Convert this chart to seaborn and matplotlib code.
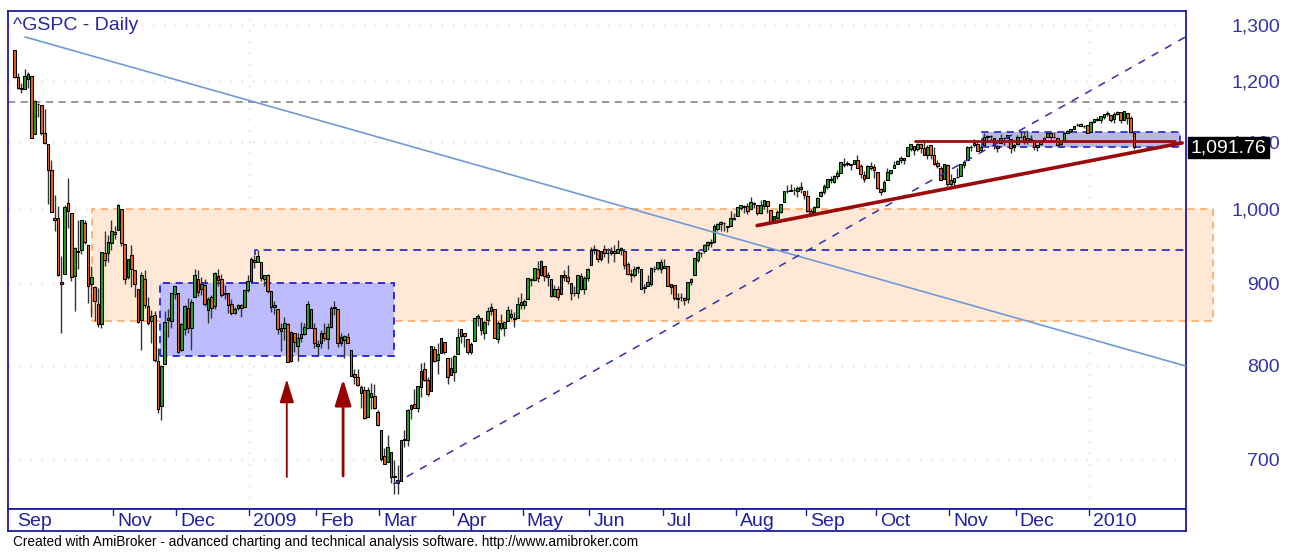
import numpy as np
import seaborn as sns
import matplotlib.pyplot as plt
from matplotlib.patches import Rectangle
from matplotlib.ticker import FixedLocator, FuncFormatter, NullLocator

# ^GSPC daily bars, 22 Sep 2008 .. 22 Jan 2010 (one value per trading day)
opens = [
    1255, 1207, 1188, 1187, 1204, 1209, 1113,                                   # Sep 08
    1162, 1160, 1115, 1097, 1057, 988, 988, 902, 912, 1009, 995, 909, 942, 943,
    980, 951, 899, 895, 874, 849, 939, 939, 953,                                # Oct
    968, 971, 1001, 952, 908, 937, 917, 893, 854, 905, 871, 853, 860, 806, 756,
    802, 854, 853, 886,                                                         # Nov
    888, 818, 843, 869, 844, 883, 906, 892, 898, 866, 882, 871, 909, 905, 886,
    888, 874, 863, 869, 873, 870, 891,                                          # Dec
    903, 930, 928, 928, 906, 910, 890, 870, 868, 841, 844, 849, 806, 839, 823,
    832, 837, 845, 868, 845,                                                    # Jan 09
    823, 826, 838, 831, 846, 869, 867, 827, 830, 834, 818, 791, 788, 776, 773,
    744, 770, 766, 749,                                                         # Feb
    730, 704, 698, 708, 684, 680, 679, 720, 720, 752, 758, 753, 776, 797, 784,
    772, 820, 807, 815, 828, 809, 790,                                          # Mar
    793, 814, 835, 839, 831, 816, 829, 856, 856, 839, 854, 865, 868, 831, 850,
    844, 853, 862, 856, 856, 876,                                               # Apr
    873, 880, 906, 904, 919, 910, 923, 910, 905, 884, 893, 886, 910, 908, 900,
    888, 887, 909, 893, 907,                                                    # May
    924, 943, 943, 932, 945, 940, 940, 942, 940, 943, 942, 925, 912, 911, 920,
    918, 894, 896, 899, 918, 920, 927,                                          # Jun
    920, 922, 895, 898, 881, 882, 881, 880, 901, 910, 930, 940, 942, 951, 953,
    954, 972, 979, 981, 977, 976, 986,                                          # Jul
    990, 1002, 1005, 1004, 1000, 1009, 1006, 995, 1005, 1012, 999, 980, 987,
    996, 1010, 1026, 1026, 1028, 1027, 1032, 1026,                              # Aug
    1019, 997, 996, 1003, 1019, 1025, 1032, 1044, 1040, 1049, 1053, 1067, 1067,
    1066, 1066, 1072, 1063, 1050, 1045, 1064, 1062,                             # Sep
    1055, 1029, 1026, 1042, 1053, 1061, 1066, 1072, 1075, 1079, 1090, 1094,
    1089, 1098, 1091, 1080, 1095, 1080, 1068, 1061, 1044, 1065,                 # Oct
    1037, 1040, 1047, 1048, 1065, 1072, 1092, 1096, 1098, 1088, 1095, 1109,
    1110, 1106, 1094, 1099, 1106, 1107, 1105, 1092,                             # Nov
    1098, 1109, 1110, 1104, 1105, 1103, 1092, 1098, 1104, 1108, 1114, 1108,
    1106, 1097, 1104, 1114, 1118, 1121, 1127, 1129, 1125, 1127,                 # Dec
    1117, 1133, 1136, 1136, 1141, 1146, 1144, 1137, 1145, 1148, 1136, 1147,
    1138, 1115,                                                                 # Jan 10
]
highs = [
    1255, 1214, 1197, 1221, 1215, 1209, 1169,
    1163, 1160, 1153, 1097, 1072, 1021, 1005, 936, 1006, 1045, 995, 948, 985,
    985, 985, 951, 922, 896, 894, 941, 970, 964, 985,
    976, 1007, 1001, 952, 932, 951, 917, 893, 914, 917, 882, 866, 865, 821, 801,
    865, 868, 888, 897,
    888, 850, 873, 881, 880, 918, 917, 908, 905, 883, 885, 914, 918, 912, 898,
    888, 880, 870, 874, 874, 891, 911,
    934, 937, 943, 928, 911, 912, 890, 877, 868, 851, 858, 850, 841, 839, 838,
    852, 850, 877, 868, 851,
    830, 842, 851, 850, 871, 878, 868, 839, 836, 838, 818, 796, 797, 779, 777,
    776, 781, 780, 751,
    730, 712, 725, 708, 700, 695, 720, 730, 752, 758, 774, 778, 803, 804, 788,
    823, 823, 826, 832, 828, 809, 810,
    813, 845, 843, 839, 831, 828, 857, 861, 856, 853, 870, 875, 868, 853, 862,
    853, 871, 868, 864, 882, 888,
    880, 907, 907, 920, 929, 930, 923, 915, 905, 898, 897, 910, 917, 924, 900,
    896, 911, 913, 909, 920,
    947, 950, 943, 942, 951, 946, 947, 950, 957, 947, 943, 928, 919, 922, 922,
    918, 899, 910, 921, 922, 928, 931,
    932, 922, 898, 898, 887, 887, 883, 901, 907, 933, 943, 941, 952, 956, 959,
    979, 980, 983, 982, 977, 997, 994,
    1003, 1006, 1006, 1009, 1018, 1011, 1006, 1013, 1013, 1012, 999, 991, 999,
    1008, 1027, 1035, 1037, 1032, 1033, 1040, 1026,
    1028, 1000, 1004, 1017, 1026, 1037, 1044, 1049, 1050, 1057, 1068, 1075,
    1071, 1067, 1073, 1080, 1066, 1056, 1065, 1070, 1066,
    1055, 1031, 1042, 1060, 1058, 1071, 1073, 1079, 1076, 1093, 1097, 1094,
    1099, 1099, 1101, 1095, 1095, 1092, 1073, 1063, 1067, 1066,
    1052, 1046, 1061, 1066, 1072, 1094, 1096, 1105, 1102, 1097, 1114, 1111,
    1112, 1106, 1095, 1113, 1108, 1112, 1105, 1098,
    1112, 1116, 1118, 1120, 1111, 1103, 1096, 1104, 1108, 1114, 1114, 1117,
    1106, 1103, 1117, 1120, 1121, 1126, 1130, 1130, 1127, 1128,
    1134, 1137, 1140, 1142, 1145, 1150, 1144, 1148, 1150, 1148, 1150, 1147,
    1142, 1115,
]
lows = [
    1205, 1187, 1180, 1187, 1188, 1106, 1113,
    1140, 1111, 1098, 1007, 996, 970, 909, 839, 912, 973, 903, 865, 918, 938,
    952, 875, 858, 853, 846, 845, 922, 928, 944,
    958, 971, 949, 899, 906, 895, 883, 850, 818, 869, 848, 826, 805, 748, 741,
    802, 834, 845, 880,
    815, 817, 836, 839, 818, 883, 884, 885, 871, 851, 856, 868, 896, 883, 880,
    863, 860, 861, 866, 858, 870, 889,
    900, 920, 927, 903, 896, 888, 864, 862, 837, 817, 830, 804, 805, 816, 806,
    828, 836, 845, 844, 821,
    812, 821, 829, 819, 845, 860, 822, 823, 809, 826, 789, 780, 777, 754, 742,
    744, 752, 752, 734,
    699, 696, 698, 677, 667, 667, 679, 713, 714, 742, 753, 749, 765, 783, 766,
    772, 805, 791, 815, 814, 780, 790,
    783, 814, 826, 822, 814, 814, 829, 847, 836, 831, 848, 860, 832, 827, 842,
    835, 853, 855, 846, 856, 868,
    867, 880, 897, 903, 901, 909, 903, 896, 882, 882, 879, 886, 903, 899, 879,
    884, 881, 891, 886, 903,
    924, 938, 927, 929, 934, 926, 937, 928, 940, 937, 919, 911, 902, 908, 913,
    893, 888, 896, 896, 915, 917, 913,
    920, 896, 886, 879, 869, 878, 873, 875, 898, 910, 928, 934, 940, 943, 948,
    953, 969, 969, 969, 968, 976, 985,
    990, 999, 994, 993, 1000, 1002, 992, 993, 1000, 994, 980, 980, 980, 994,
    1010, 1024, 1026, 1021, 1017, 1023, 1014,
    996, 992, 992, 1002, 1017, 1022, 1029, 1038, 1038, 1044, 1053, 1062, 1064,
    1058, 1066, 1060, 1045, 1040, 1045, 1057, 1046,
    1029, 1020, 1025, 1042, 1051, 1060, 1066, 1068, 1067, 1079, 1086, 1081,
    1086, 1084, 1080, 1074, 1074, 1065, 1060, 1042, 1044, 1033,
    1029, 1034, 1045, 1048, 1060, 1072, 1087, 1093, 1086, 1085, 1095, 1102,
    1103, 1089, 1085, 1099, 1096, 1106, 1083, 1086,
    1098, 1106, 1098, 1097, 1100, 1088, 1086, 1096, 1101, 1108, 1105, 1107,
    1095, 1093, 1104, 1114, 1116, 1121, 1125, 1126, 1122, 1115,
    1117, 1130, 1134, 1131, 1137, 1142, 1132, 1131, 1144, 1131, 1136, 1129,
    1115, 1090,
]
closes = [
    1207, 1188, 1186, 1209, 1213, 1106, 1166,
    1161, 1114, 1099, 1057, 996, 985, 910, 899, 1003, 998, 908, 946, 941, 985,
    955, 897, 908, 877, 849, 941, 930, 954, 969,
    966, 1006, 953, 905, 931, 919, 899, 852, 911, 873, 851, 859, 807, 752, 800,
    852, 857, 888, 896,
    816, 849, 871, 845, 876, 910, 889, 899, 874, 880, 869, 913, 904, 885, 888,
    872, 863, 868, 873, 869, 891, 903,
    932, 927, 935, 907, 910, 890, 870, 872, 843, 844, 850, 805, 840, 828, 832,
    837, 846, 874, 845, 826,
    825, 839, 832, 846, 869, 870, 827, 834, 835, 827, 789, 788, 779, 770, 743,
    773, 765, 753, 735,
    701, 696, 713, 683, 683, 677, 720, 721, 751, 757, 754, 778, 794, 784, 769,
    823, 806, 814, 833, 816, 788, 798,
    811, 834, 843, 835, 816, 825, 857, 859, 842, 852, 865, 870, 832, 850, 844,
    852, 866, 858, 855, 874, 873,
    878, 907, 904, 920, 907, 929, 909, 908, 884, 893, 883, 910, 908, 903, 888,
    887, 910, 893, 907, 919,
    943, 945, 932, 942, 940, 939, 942, 939, 945, 946, 924, 912, 911, 918, 921,
    893, 895, 901, 920, 919, 927, 919,
    923, 896, 899, 881, 880, 883, 879, 901, 906, 933, 941, 940, 951, 955, 954,
    976, 979, 982, 980, 975, 987, 987,
    1003, 1006, 1003, 997, 1010, 1007, 994, 1006, 1013, 1004, 980, 990, 996,
    1007, 1026, 1026, 1028, 1028, 1031, 1029, 1021,
    998, 995, 1003, 1016, 1025, 1033, 1044, 1043, 1049, 1053, 1069, 1065, 1068,
    1065, 1072, 1061, 1051, 1044, 1063, 1061, 1057,
    1030, 1025, 1040, 1055, 1058, 1065, 1071, 1076, 1073, 1092, 1097, 1088,
    1098, 1091, 1081, 1093, 1080, 1067, 1063, 1043, 1066, 1036,
    1043, 1045, 1047, 1067, 1069, 1093, 1093, 1099, 1087, 1093, 1109, 1110,
    1110, 1095, 1091, 1106, 1106, 1111, 1091, 1096,
    1109, 1109, 1100, 1106, 1103, 1092, 1096, 1102, 1106, 1114, 1108, 1109,
    1096, 1102, 1114, 1118, 1121, 1126, 1128, 1126, 1126, 1115,
    1133, 1137, 1137, 1142, 1145, 1147, 1136, 1146, 1148, 1136, 1150, 1138,
    1116, 1092,
]
last_close = 1091.76

# first trading day of each labelled month (bar index)
month_labels = ["Sep", "Nov", "Dec", "2009", "Feb", "Mar", "Apr", "May", "Jun",
                "Jul", "Aug", "Sep", "Oct", "Nov", "Dec", "2010"]
month_start = [0, 30, 49, 71, 91, 110, 132, 153, 173, 195, 217, 238, 259, 281, 301, 323]
year_start = [71, 323]

y_ticks = [700, 800, 900, 1000, 1100, 1200, 1300]

# hand-drawn studies: (bar index, price) pairs
zone_box = (23.2, 853, 359.9, 1000)          # x0, y0, x1, y1
left_box = (43.7, 811, 114.0, 900)
right_box = (290.4, 1093, 349.9, 1117)
resist_line = [(72.3, 937), (72.3, 943), (351.5, 943)]
gray_level = 1165
down_line = [(3.1, 1278), (351.5, 800)]
up_line = [(113.7, 676), (351.5, 1278)]
red_flat = [(270.3, 1102), (348.4, 1102)]
red_trend = [(222.9, 977), (350.5, 1099)]
arrows = [(81.7, 683, 785, 1.3, 0.22, 0.72), (98.6, 684, 785, 2.0, 0.25, 0.80)]

sns.set_style("white")
plt.rcParams['font.family'] = ['Liberation Sans', 'DejaVu Sans']

navy = '#1c1c9c'
label_blue = '#3434a8'

fig = plt.figure(figsize=(12.93, 5.52), dpi=100)
ax = fig.add_axes([8 / 1293, 43 / 552, 1177.5 / 1293, 498.5 / 552])
band = fig.add_axes([8 / 1293, 21 / 552, 1177.5 / 1293, 22 / 552], sharex=ax)

ax.set_yscale('log')
ax.set_xlim(-2.0, 351.5)
ax.set_ylim(652.6, 1327)

# grid
for t in y_ticks:
    ax.axhline(t, color='#f6c6c6', lw=1, ls=(0, (1, 7)), zorder=0)
for i in year_start:
    ax.axvline(i - 0.5, color='#f6c6c6', lw=1, ls=(0, (1, 7)), zorder=0)

# zones
x0, y0, x1, y1 = zone_box
ax.add_patch(Rectangle((x0, y0), x1 - x0, y1 - y0, facecolor='#ffe8d6', edgecolor='#ffb070',
                       lw=1.3, ls=(0, (4, 3)), clip_on=False, zorder=1))
x0, y0, x1, y1 = left_box
ax.add_patch(Rectangle((x0, y0), x1 - x0, y1 - y0, facecolor='#bcbcff', edgecolor='#2020e6',
                       lw=1.3, ls=(0, (4, 3)), zorder=1.5))
x0, y0, x1, y1 = right_box
ax.add_patch(Rectangle((x0, y0), x1 - x0, y1 - y0, facecolor='#b8b8e2', edgecolor='#3030d0',
                       lw=1.3, ls=(0, (4, 3)), zorder=1.5))

ax.plot(*zip(*resist_line), color='#4040c0', lw=1.4, ls=(0, (4, 3)), zorder=2)
ax.axhline(gray_level, color='#909090', lw=1.3, ls=(0, (4, 3)), zorder=2)

# candles
idx = np.arange(len(closes))
o = np.array(opens, float)
c = np.array(closes, float)
up = c >= o
ax.vlines(idx, lows, highs, color='#333333', lw=1, zorder=3)
ax.bar(idx[up], (c - o)[up], bottom=o[up], width=0.8, color='#22a022',
       edgecolor='black', lw=0.75, zorder=4)
ax.bar(idx[~up], (o - c)[~up], bottom=c[~up], width=0.8, color='#e8601c',
       edgecolor='black', lw=0.75, zorder=4)

# trend lines
ax.plot(*zip(*down_line), color='#6e9bd8', lw=1.2, zorder=5)
ax.plot(*zip(*up_line), color='#3030b0', lw=1.1, ls=(0, (5, 5)), zorder=5)
ax.plot(*zip(*red_flat), color='#9b0a0a', lw=2, zorder=6)
ax.plot(*zip(*red_trend), color='#9b0a0a', lw=2.6, zorder=6)

for i, base, tip, lw, hw, hl in arrows:
    ax.annotate('', xy=(i, tip), xytext=(i, base),
                arrowprops=dict(arrowstyle=f'-|>,head_length={hl},head_width={hw}',
                                mutation_scale=20, color='#990000', lw=lw,
                                shrinkA=0, shrinkB=0), zorder=6)

# axes styling
ax.yaxis.set_major_locator(FixedLocator(y_ticks))
ax.yaxis.set_minor_locator(NullLocator())
ax.yaxis.set_major_formatter(FuncFormatter(lambda v, p: f"{int(v):,}"))
ax.yaxis.tick_right()
ax.tick_params(axis='y', length=0, pad=68, labelsize=14, labelcolor=label_blue)
for lab in ax.get_yticklabels():
    lab.set_ha('right')
ax.tick_params(axis='x', bottom=False, labelbottom=False)
for s in ax.spines.values():
    s.set_color(navy)
    s.set_linewidth(1.3)

ax.text(0.0042, 0.970, '^GSPC - Daily', transform=ax.transAxes, ha='left', va='center',
        fontsize=14, color='#2828a0')

ax.annotate(f"{last_close:,.2f}", xy=(1.0, last_close), xycoords=('axes fraction', 'data'),
            xytext=(5, 0), textcoords='offset pixels', ha='left', va='center',
            fontsize=14, color='white', annotation_clip=False, zorder=10,
            bbox=dict(boxstyle='square,pad=0.12', fc='black', ec='black'))

# date band
band.set_ylim(0, 1)
band.set_yticks([])
band.tick_params(axis='x', bottom=False, labelbottom=False)
for s in band.spines.values():
    s.set_color(navy)
    s.set_linewidth(1.3)
for k, (lab, i) in enumerate(zip(month_labels, month_start)):
    if k > 0:
        band.plot([i - 0.5, i - 0.5], [1, 0.75], color=navy, lw=1)
    band.text(i - 0.5 + 1.2, 0.45, lab, ha='left', va='center', fontsize=14, color='#2020a0')

fig.text(13 / 1293, 1 - 542 / 552, 'Created with AmiBroker - advanced charting and technical '
         'analysis software. http://www.amibroker.com', ha='left', va='center',
         fontsize=9.8, color='black')

fig.savefig('out.png', dpi=100, facecolor='white')
